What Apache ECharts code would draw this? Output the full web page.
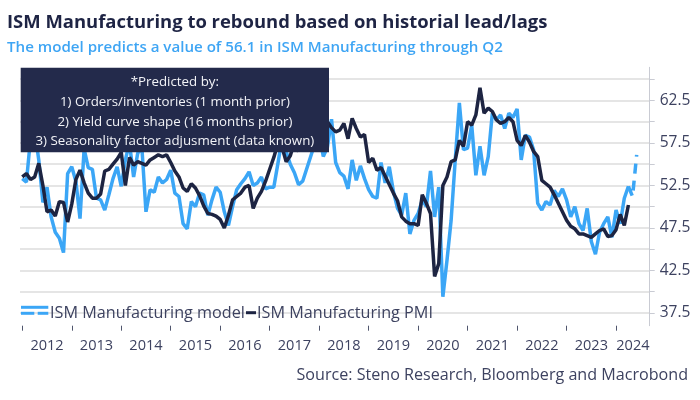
<!DOCTYPE html>
<html><head><meta charset="utf-8">
<script src="https://cdn.jsdelivr.net/npm/echarts@6/dist/echarts.min.js"></script>
<style>html,body{margin:0;padding:0;background:#fff}#c{width:700px;height:400px}</style>
</head><body><div id="c"></div>
<script>
// ---- data (monthly, plotted at month end; first observation = Dec 2011) ----
const firstYear = 2011, firstMonth = 12;
const pmi = [
  53.5,
  53.9, 53.2, 53.5, 55.1, 52.5, 49.4, 49.6, 48.9, 50.6, 50.5, 48.2, 50.3,
  53.2, 54.3, 52.8, 51.6, 51.0, 51.0, 51.5, 54.2, 54.4, 55.0, 55.6, 56.4,
  52.5, 55.8, 54.9, 55.3, 55.1, 54.9, 55.5, 55.8, 56.1, 55.9, 56.1, 55.2,
  54.2, 53.5, 52.2, 51.8, 52.7, 52.2, 51.3, 50.1, 49.2, 49.1, 48.9, 48.5,
  47.5, 49.0, 50.8, 51.2, 51.6, 52.3, 52.5, 49.8, 51.0, 51.8, 53.0, 54.4,
  55.8, 57.5, 57.0, 55.3, 56.0, 57.6, 56.5, 58.6, 60.5, 58.7, 58.2, 59.7,
  59.5, 60.0, 59.3, 58.8, 59.0, 59.8, 58.0, 60.4, 59.2, 58.2, 58.5, 55.2,
  55.7, 54.3, 54.6, 53.6, 52.6, 51.6, 50.7, 48.8, 48.3, 48.0, 48.0, 47.8,
  51.4, 50.4, 49.2, 41.8, 43.3, 52.5, 53.5, 55.3, 55.5, 57.8, 57.1, 60.0,
  59.6, 60.8, 64.0, 61.0, 61.6, 61.2, 60.2, 59.8, 60.0, 60.5, 60.0, 57.8,
  57.2, 58.4, 57.6, 56.5, 55.9, 53.1, 52.7, 52.3, 51.4, 50.4, 49.4, 48.4,
  47.7, 47.4, 46.8, 46.8, 46.6, 46.4, 46.8, 47.2, 47.4, 46.5, 46.6, 47.3,
  49.1, 47.8, 50.2
];
const model = [
  53.3,
  52.9, 58.0, 59.0, 55.5, 50.5, 52.3, 48.8, 47.0, 46.3, 44.6, 53.9, 54.7,
  53.0, 48.6, 56.8, 54.6, 54.4, 51.0, 50.8, 49.6, 51.4, 53.3, 54.7, 52.4,
  55.5, 57.5, 53.5, 56.3, 57.0, 49.4, 52.0, 51.7, 53.5, 52.8, 53.2, 54.3,
  51.6, 51.2, 48.0, 47.4, 50.6, 50.0, 51.6, 51.4, 49.0, 50.8, 52.3, 51.7,
  49.4, 47.8, 50.0, 52.0, 52.7, 53.3, 54.1, 52.5, 52.8, 53.5, 52.1, 52.3,
  52.3, 55.1, 58.0, 56.5, 55.0, 54.0, 52.6, 53.0, 54.5, 56.0, 57.5, 58.5,
  55.9, 57.0, 60.3, 55.2, 54.0, 53.6, 52.1, 55.5, 53.1, 54.8, 53.3, 52.0,
  51.2, 51.0, 55.2, 52.8, 54.7, 51.8, 49.8, 49.0, 51.6, 46.8, 48.4, 49.2,
  50.8, 50.0, 54.2, 48.8, 52.3, 39.4, 43.7, 48.4, 55.5, 62.2, 56.7, 56.9,
  59.6, 53.7, 57.1, 53.7, 55.9, 61.0, 60.2, 60.8, 59.2, 61.0, 60.5, 61.5,
  55.5, 58.4, 58.2, 56.7, 50.4, 49.6, 50.6, 50.2, 51.9, 51.2, 52.1, 50.8,
  48.8, 50.0, 48.0, 47.2, 49.8, 45.9, 44.4, 47.0, 48.0, 48.8, 46.4, 49.6,
  48.0, 51.0, 52.4
];
// predicted continuation (dashed), following the last fitted value
const modelForecast = [51.2, 56.1];
const yearTicks = [2012, 2013, 2014, 2015, 2016, 2017, 2018, 2019, 2020, 2021, 2022, 2023, 2024];
const yTicks = [37.5, 40, 42.5, 45, 47.5, 50, 52.5, 55, 57.5, 60, 62.5, 65];
const yLabels = [37.5, 42.5, 47.5, 52.5, 57.5, 62.5];
const boxLines = ['*Predicted by:', '1) Orders/inventories (1 month prior)', '2) Yield curve shape (16 months prior)', '3) Seasonality factor adjusment (data known)'];
const legendNames = ['ISM Manufacturing model', 'ISM Manufacturing PMI'];
const titleText = 'ISM Manufacturing to rebound based on historial lead/lags';
const subtitleText = 'The model predicts a value of 56.1 in ISM Manufacturing through Q2';
const sourceText = 'Source: Steno Research, Bloomberg and Macrobond';

// ---- helpers ----
const FAM = '"Open Sans", "Noto Sans", sans-serif';
const cv = document.createElement('canvas').getContext('2d');
function fit(text, weight, width) {
  cv.font = weight + ' 100px ' + FAM;
  return +(100 * width / cv.measureText(text).width).toFixed(2);
}
const monthPos = i => firstYear + (firstMonth + i) / 12; // month-end position in years
const toPts = (arr, offset) => arr.map((v, i) => [monthPos(i + offset), v]);
const pmiPts = toPts(pmi, 0);
const modelPts = toPts(model, 0);
const fcPts = toPts([model[model.length - 1]].concat(modelForecast), model.length - 1);

const X_MIN = 2011.954, X_MAX = 2024.68;
const yearLabelPos = yearTicks.map(y => y === 2024 ? (y + X_MAX) / 2 : y + 0.5);

const BLUE = '#3ba6f6', NAVY = '#1d2442', TXT = '#3d4260';
const yLabSize = fit('62.5', 'normal', 30.7);
const xLabSize = fit('2012', 'normal', 33.3);
const legSize = fit(legendNames[0], 'normal', 195);
const boxSize = fit(boxLines[3], 'normal', 279);

const chart = echarts.init(document.getElementById('c'), null, {renderer: 'canvas'});
chart.setOption({
  animation: false,
  backgroundColor: '#fff',
  grid: {left: 20, right: 50.3, top: 67.3, bottom: 74.3, containLabel: false},
  xAxis: {
    type: 'value', min: X_MIN, max: X_MAX,
    axisLine: {show: false},
    axisTick: {show: true, length: 5, customValues: yearTicks, lineStyle: {color: '#50566e', width: 1}},
    axisLabel: {customValues: yearLabelPos, formatter: v => String(Math.floor(v)), margin: 13,
      color: TXT, fontFamily: FAM, fontSize: xLabSize},
    splitLine: {show: false}
  },
  yAxis: {
    type: 'value', position: 'right', min: 36, max: 66.4,
    axisLine: {show: true, lineStyle: {color: '#c9cbd3', width: 1}},
    axisTick: {show: true, length: 5, customValues: yTicks, lineStyle: {color: '#c9cbd3'}},
    axisLabel: {customValues: yLabels, formatter: v => v.toFixed(1), margin: 10,
      color: TXT, fontFamily: FAM, fontSize: yLabSize},
    splitLine: {show: true, lineStyle: {color: '#dcdcdc', width: 1.5}}
  },
  series: [
    {name: legendNames[0], type: 'line', data: modelPts, showSymbol: false, symbol: 'none',
      lineStyle: {color: BLUE, width: 3.5}, itemStyle: {color: BLUE}, z: 2},
    {name: 'model forecast', type: 'line', data: fcPts, showSymbol: false, symbol: 'none',
      lineStyle: {color: BLUE, width: 3.5, type: [10, 7]}, itemStyle: {color: BLUE}, z: 2},
    {name: legendNames[1], type: 'line', data: pmiPts, showSymbol: false, symbol: 'none',
      lineStyle: {color: NAVY, width: 3.5}, itemStyle: {color: NAVY}, z: 3}
  ],
  graphic: [
    {type: 'text', x: 7, y: 23, z: 60, style: {text: titleText, fill: '#1e2444',
      font: 'bold ' + fit(titleText, 'bold', 541) + 'px ' + FAM, align: 'left', verticalAlign: 'middle'}},
    {type: 'text', x: 7, y: 48, z: 60, style: {text: subtitleText, fill: '#3ea5f4',
      font: '600 ' + fit(subtitleText, '600', 496) + 'px ' + FAM, align: 'left', verticalAlign: 'middle'}},
    {type: 'rect', z: 50, shape: {x: 20.7, y: 67.7, width: 308.3, height: 84.6}, style: {fill: '#232a4b'}},
    {type: 'text', x: 174.85, y: 112, z: 51, style: {text: boxLines.join('\n'), fill: '#f2f3f7',
      font: 'normal ' + boxSize + 'px ' + FAM, lineHeight: 19.8, align: 'center', verticalAlign: 'middle'}},
    // legend
    {type: 'rect', z: 40, shape: {x: 21, y: 305.8, width: 27.3, height: 3}, style: {fill: BLUE}},
    {type: 'rect', z: 40, shape: {x: 21, y: 311.8, width: 13.3, height: 3}, style: {fill: BLUE}},
    {type: 'rect', z: 40, shape: {x: 37.7, y: 311.8, width: 10.6, height: 3}, style: {fill: BLUE}},
    {type: 'text', x: 50, y: 313, z: 40, style: {text: legendNames[0], fill: TXT,
      font: 'normal ' + legSize + 'px ' + FAM, align: 'left', verticalAlign: 'middle'}},
    {type: 'rect', z: 40, shape: {x: 246, y: 311.2, width: 10, height: 3}, style: {fill: NAVY}},
    {type: 'text', x: 257, y: 313, z: 40, style: {text: legendNames[1], fill: TXT,
      font: 'normal ' + legSize + 'px ' + FAM, align: 'left', verticalAlign: 'middle'}},
    {type: 'text', x: 688, y: 375, z: 40, style: {text: sourceText, fill: TXT,
      font: 'normal ' + fit(sourceText, 'normal', 392) + 'px ' + FAM, align: 'right', verticalAlign: 'middle'}}
  ]
});
</script></body></html>
